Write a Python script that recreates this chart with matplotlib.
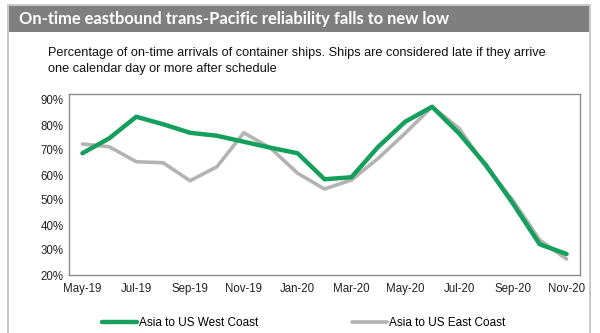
import numpy as np
import matplotlib
matplotlib.use('Agg')
import matplotlib.pyplot as plt
from matplotlib.patches import Rectangle
from matplotlib.ticker import FuncFormatter

months = ['May-19', 'Jun-19', 'Jul-19', 'Aug-19', 'Sep-19', 'Oct-19', 'Nov-19',
          'Dec-19', 'Jan-20', 'Feb-20', 'Mar-20', 'Apr-20', 'May-20', 'Jun-20',
          'Jul-20', 'Aug-20', 'Sep-20', 'Oct-20', 'Nov-20']
west_coast = [68.7, 74.7, 83.3, 80.3, 76.9, 75.7, 73.3, 70.9, 68.7, 58.3,
              59.1, 71.3, 81.3, 87.3, 76.7, 64.0, 48.7, 32.3, 28.4]
east_coast = [72.4, 71.3, 65.3, 64.9, 57.7, 63.3, 76.9, 70.7, 60.7, 54.4,
              58.0, 66.7, 76.7, 87.3, 78.7, 63.3, 50.0, 34.0, 26.4]
tick_labels = months[::2]

plt.rcParams['font.family'] = ['Liberation Sans', 'DejaVu Sans']

fig = plt.figure(figsize=(6, 3.33), dpi=100)

# outer frame and title bar
fig.patches.append(Rectangle((8 / 600, -0.05), 582 / 600, 1 - 5 / 333 + 0.05,
                             transform=fig.transFigure, facecolor='white',
                             edgecolor='#bfbfbf', linewidth=1.2, zorder=0))
fig.patches.append(Rectangle((9 / 600, 1 - 32 / 333), 580 / 600, 26 / 333,
                             transform=fig.transFigure, facecolor='#7f7f7f',
                             edgecolor='none', zorder=1))
fig.text(19 / 600, 1 - 19 / 333, 'On-time eastbound trans-Pacific reliability falls to new low',
         color='white', fontsize=11.9, fontweight='bold', family=['Lato', 'DejaVu Sans'],
         va='center', ha='left')
fig.text(48 / 600, 1 - 61 / 333,
         'Percentage of on-time arrivals of container ships. Ships are considered late if they arrive\n'
         'one calendar day or more after schedule',
         fontsize=9.2, color='#111111', va='center', ha='left', linespacing=1.5)

ax = fig.add_axes([69 / 600, 1 - 275 / 333, 511 / 600, 181 / 333])
ax.set_zorder(5)
x = np.arange(len(months))
ax.plot(x, west_coast, color='#14a05c', linewidth=3.2, label='Asia to US West Coast',
        solid_capstyle='round', solid_joinstyle='round', zorder=3)
ax.plot(x, east_coast, color='#b3b3b3', linewidth=2.6, label='Asia to US East Coast',
        solid_capstyle='round', solid_joinstyle='round', zorder=2)

ax.set_xlim(-0.5, len(months) - 0.5)
ax.set_ylim(20, 92.4)
ax.set_yticks(np.arange(20, 91, 10))
ax.yaxis.set_major_formatter(FuncFormatter(lambda v, p: f'{v:.0f}%'))
ax.set_xticks(x[::2])
ax.set_xticklabels(tick_labels)
ax.tick_params(length=0, labelsize=8.3, colors='#222222', pad=6)
ax.tick_params(axis='y', pad=4)
for s in ax.spines.values():
    s.set_color('#8c8c8c')
    s.set_linewidth(1.0)

leg = fig.legend(loc='center', bbox_to_anchor=(0.506, 1 - 323 / 333), ncol=2, frameon=False,
                 fontsize=8.5, handlelength=2.95, columnspacing=8.0, handletextpad=0.15)
leg.set_zorder(6)

fig.savefig('out.png', dpi=100)
